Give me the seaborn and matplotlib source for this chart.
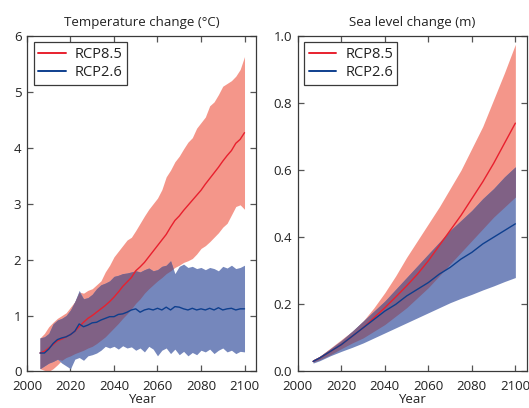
import numpy as np
import pandas as pd
import matplotlib
matplotlib.use("Agg")
import matplotlib.pyplot as plt
import seaborn as sns

# ---------------- Temperature data ----------------
t_years = list(range(2006, 2101, 2))
t85_mean = [0.33, 0.36, 0.42, 0.48, 0.55, 0.58, 0.62, 0.66, 0.72, 0.80, 0.88, 0.95,
            1.00, 1.06, 1.12, 1.18, 1.25, 1.33, 1.42, 1.52, 1.60, 1.68, 1.80, 1.87,
            1.95, 2.05, 2.15, 2.25, 2.35, 2.45, 2.58, 2.70, 2.78, 2.88, 2.97, 3.06,
            3.15, 3.24, 3.35, 3.45, 3.55, 3.65, 3.76, 3.86, 3.95, 4.08, 4.15, 4.27]
t85_high = [0.60, 0.68, 0.80, 0.88, 0.95, 1.00, 1.05, 1.15, 1.25, 1.42, 1.40, 1.45,
            1.48, 1.55, 1.62, 1.78, 1.90, 2.05, 2.15, 2.25, 2.35, 2.40, 2.52, 2.65,
            2.78, 2.90, 3.00, 3.10, 3.25, 3.48, 3.60, 3.75, 3.85, 3.98, 4.10, 4.18,
            4.35, 4.45, 4.55, 4.75, 4.82, 4.95, 5.10, 5.15, 5.20, 5.28, 5.40, 5.63]
t85_low = [0.05, 0.02, 0.00, 0.05, 0.12, 0.20, 0.25, 0.28, 0.32, 0.35, 0.38, 0.42,
           0.45, 0.50, 0.56, 0.62, 0.70, 0.78, 0.86, 0.95, 1.03, 1.12, 1.22, 1.30,
           1.40, 1.48, 1.55, 1.62, 1.68, 1.75, 1.80, 1.86, 1.90, 1.95, 1.98, 2.02,
           2.10, 2.20, 2.25, 2.32, 2.40, 2.48, 2.58, 2.65, 2.80, 2.95, 2.98, 2.90]
t26_mean = [0.33, 0.33, 0.40, 0.50, 0.57, 0.60, 0.62, 0.66, 0.72, 0.85, 0.80, 0.83,
            0.87, 0.88, 0.92, 0.95, 0.98, 0.98, 1.02, 1.03, 1.06, 1.10, 1.12, 1.06,
            1.10, 1.12, 1.10, 1.13, 1.10, 1.15, 1.10, 1.16, 1.15, 1.12, 1.10, 1.13,
            1.10, 1.12, 1.10, 1.13, 1.10, 1.14, 1.10, 1.12, 1.13, 1.10, 1.12, 1.12]
t26_high = [0.60, 0.62, 0.68, 0.85, 0.92, 0.95, 1.00, 1.10, 1.25, 1.45, 1.30, 1.32,
            1.38, 1.48, 1.55, 1.58, 1.62, 1.70, 1.72, 1.75, 1.76, 1.78, 1.80, 1.78,
            1.82, 1.85, 1.80, 1.82, 1.88, 1.90, 1.98, 1.75, 1.88, 1.92, 1.86, 1.88,
            1.84, 1.86, 1.82, 1.86, 1.84, 1.80, 1.88, 1.85, 1.90, 1.84, 1.86, 1.90]
t26_low = [0.05, 0.10, 0.15, 0.18, 0.22, 0.15, 0.10, 0.05, 0.22, 0.25, 0.20, 0.28,
           0.30, 0.33, 0.38, 0.45, 0.42, 0.45, 0.40, 0.46, 0.42, 0.44, 0.38, 0.42,
           0.35, 0.45, 0.40, 0.28, 0.38, 0.42, 0.32, 0.40, 0.30, 0.36, 0.28, 0.34,
           0.30, 0.38, 0.35, 0.40, 0.32, 0.38, 0.42, 0.35, 0.38, 0.32, 0.36, 0.35]

# ---------------- Sea level data ----------------
s_years = [2007, 2010, 2015, 2020, 2025, 2030, 2035, 2040, 2045, 2050,
           2055, 2060, 2065, 2070, 2075, 2080, 2085, 2090, 2095, 2100]
s85_mean = [0.03, 0.04, 0.06, 0.08, 0.105, 0.13, 0.16, 0.19, 0.222, 0.255,
            0.29, 0.33, 0.375, 0.42, 0.465, 0.515, 0.565, 0.62, 0.68, 0.74]
s85_high = [0.035, 0.045, 0.07, 0.095, 0.12, 0.15, 0.19, 0.235, 0.285, 0.34,
            0.39, 0.44, 0.49, 0.545, 0.60, 0.665, 0.73, 0.81, 0.89, 0.975]
s85_low = [0.028, 0.035, 0.05, 0.068, 0.085, 0.10, 0.12, 0.14, 0.165, 0.19,
           0.22, 0.25, 0.285, 0.32, 0.355, 0.39, 0.425, 0.46, 0.49, 0.52]
s26_mean = [0.03, 0.04, 0.06, 0.08, 0.105, 0.13, 0.155, 0.18, 0.20, 0.225,
            0.245, 0.265, 0.29, 0.31, 0.335, 0.355, 0.38, 0.40, 0.42, 0.44]
s26_high = [0.035, 0.045, 0.068, 0.092, 0.12, 0.15, 0.18, 0.21, 0.245, 0.28,
            0.315, 0.35, 0.385, 0.42, 0.45, 0.48, 0.515, 0.545, 0.58, 0.61]
s26_low = [0.025, 0.032, 0.047, 0.06, 0.072, 0.085, 0.10, 0.115, 0.13, 0.145,
           0.16, 0.175, 0.19, 0.205, 0.218, 0.23, 0.243, 0.255, 0.268, 0.28]

labels = ["RCP8.5", "RCP2.6"]
x_ticks = [2000, 2020, 2040, 2060, 2080, 2100]

RED_LINE = "#e8202e"
RED_BAND = "#f4968a"
BLUE_LINE = "#0e3f8e"
BLUE_BAND = "#7587bc"
OVERLAP = "#806185"
SPINE = "#3a3a3a"

sns.set_style("ticks")
plt.rcParams["font.family"] = ["Open Sans", "DejaVu Sans"]
plt.rcParams["axes.edgecolor"] = SPINE
plt.rcParams["text.color"] = "#222222"
plt.rcParams["axes.labelcolor"] = "#222222"
plt.rcParams["xtick.color"] = "#555555"
plt.rcParams["ytick.color"] = "#555555"
plt.rcParams["xtick.labelcolor"] = "#222222"
plt.rcParams["ytick.labelcolor"] = "#222222"

fig = plt.figure(figsize=(5.29, 4.08), dpi=100)
ax1 = fig.add_axes([0.051, 0.0895, 0.433, 0.8225])
ax2 = fig.add_axes([0.563, 0.0895, 0.433, 0.8225])


def draw(ax, years, m85, h85, l85, m26, h26, l26):
    yrs = np.array(years, dtype=float)
    h85a, l85a, h26a, l26a = map(np.array, (h85, l85, h26, l26))
    ax.fill_between(yrs, l85a, h85a, color=RED_BAND, lw=0)
    ax.fill_between(yrs, l26a, h26a, color=BLUE_BAND, lw=0)
    lo = np.maximum(l85a, l26a)
    hi = np.minimum(h85a, h26a)
    ax.fill_between(yrs, lo, hi, where=hi > lo, interpolate=True, color=OVERLAP, lw=0)
    df = pd.DataFrame({
        "Year": list(years) * 2,
        "value": list(m85) + list(m26),
        "scenario": [labels[0]] * len(years) + [labels[1]] * len(years),
    })
    sns.lineplot(data=df, x="Year", y="value", hue="scenario", hue_order=labels,
                 palette=[RED_LINE, BLUE_LINE], lw=1.0, ax=ax)
    leg = ax.legend(loc="upper left", fontsize=10.5, frameon=True, fancybox=False,
                    borderaxespad=0.45, handlelength=1.9, handletextpad=0.6,
                    labelspacing=0.25, borderpad=0.3, framealpha=1)
    for h in leg.get_lines():
        h.set_linewidth(1.4)
    leg.get_frame().set_edgecolor(SPINE)
    leg.get_frame().set_linewidth(0.9)
    ax.set_xlabel("Year", fontsize=9.5, labelpad=0)
    ax.set_ylabel("")
    ax.set_xticks(x_ticks)
    ax.set_xlim(2000, 2105.3)
    ax.tick_params(direction="in", top=True, right=True, labelsize=9.5,
                   length=4, width=0.9)
    ax.tick_params(axis="x", pad=6)
    ax.tick_params(axis="y", pad=4)
    for s in ax.spines.values():
        s.set_linewidth(0.9)


draw(ax1, t_years, t85_mean, t85_high, t85_low, t26_mean, t26_high, t26_low)
ax1.set_ylim(0, 6)
ax1.set_yticks([0, 1, 2, 3, 4, 5, 6])
ax1.set_title("Temperature change (°C)", fontsize=9.5, pad=7)

draw(ax2, s_years, s85_mean, s85_high, s85_low, s26_mean, s26_high, s26_low)
ax2.set_ylim(0, 1.0)
ax2.set_yticks([0.0, 0.2, 0.4, 0.6, 0.8, 1.0])
ax2.set_yticklabels(["0.0", "0.2", "0.4", "0.6", "0.8", "1.0"])
ax2.set_title("Sea level change (m)", fontsize=9.5, pad=7)

fig.savefig("out.png", dpi=100)
